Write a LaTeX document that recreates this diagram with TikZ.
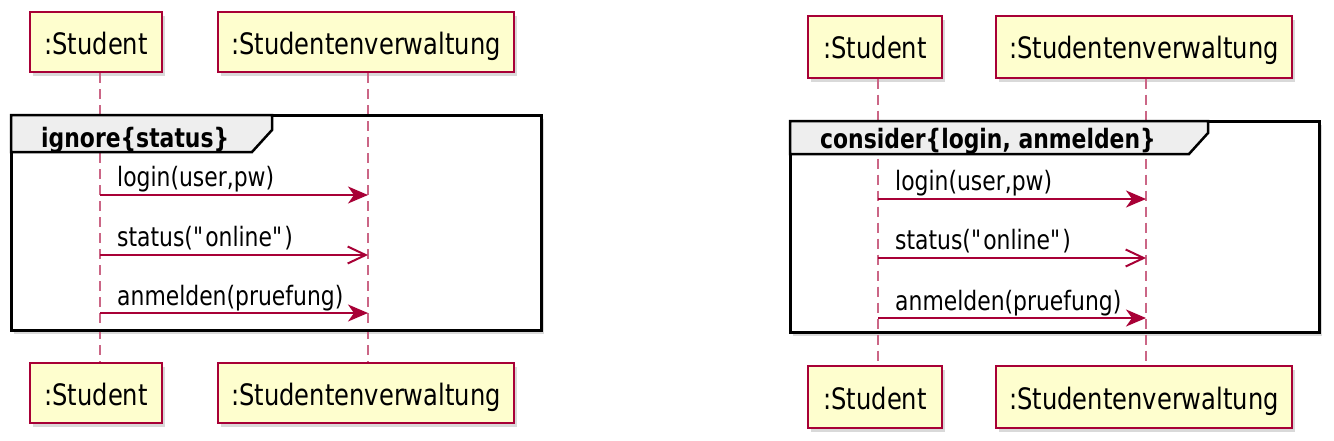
\documentclass[tikz,border=0pt]{standalone}
\usepackage{fontspec}
\setmainfont{DejaVu Sans}[FakeStretch=0.82]
\usetikzlibrary{arrows.meta,shadows}
\definecolor{pcrim}{HTML}{A80036}
\definecolor{pfill}{HTML}{FEFECE}
\definecolor{tabgrey}{HTML}{EEEEEE}
\begin{document}
\begin{tikzpicture}[x=1pt,y=-1pt,
  pbox/.style={draw=pcrim, line width=2pt, fill=pfill, inner sep=0pt,
    minimum height=60pt, text height=24pt, text depth=0pt,
    font=\fontsize{29.5}{34}\selectfont,
    drop shadow={shadow xshift=3pt,shadow yshift=-4pt,opacity=0.3}},
  lifeline/.style={draw=pcrim!60, line width=2pt, dash pattern=on 10pt off 6pt},
  framebox/.style={draw=black, line width=3pt},
  framefill/.style={fill=white, drop shadow={shadow xshift=3pt,shadow yshift=-4pt,opacity=0.3}},
  tabbox/.style={draw=black, line width=2.5pt, fill=tabgrey, line join=miter},
  tablabel/.style={anchor=base west, inner sep=0pt, font=\fontsize{26.7}{30}\selectfont\bfseries},
  msglabel/.style={anchor=base west, inner sep=0pt, font=\fontsize{26.7}{30}\selectfont},
  syncmsg/.style={draw=pcrim, line width=2pt, -{Stealth[length=20pt,width=17pt,inset=6pt]}},
  asyncmsg/.style={draw=pcrim, line width=2pt, -{Straight Barb[length=18pt,width=17pt]}}
]
\useasboundingbox (0,0) rectangle (1334,440);

% ---------- frame backgrounds ----------
\path[framefill] (11,115) rectangle (541,330);
\path[framefill] (790,121) rectangle (1319,332);

% ---------- left diagram participants ----------
\node[pbox, minimum width=132pt] (s1t) at (96,42) {:Student};
\node[pbox, minimum width=296pt] (v1t) at (366,42) {:Studentenverwaltung};
\node[pbox, minimum width=132pt] (s1b) at (96,393) {:Student};
\node[pbox, minimum width=296pt] (v1b) at (366,393) {:Studentenverwaltung};

% ---------- right diagram participants ----------
\node[pbox, minimum width=134pt, minimum height=62pt] (s2t) at (875,46.5) {:Student};
\node[pbox, minimum width=296pt, minimum height=62pt] (v2t) at (1144,46.5) {:Studentenverwaltung};
\node[pbox, minimum width=134pt, minimum height=62pt] (s2b) at (875,397) {:Student};
\node[pbox, minimum width=296pt, minimum height=62pt] (v2b) at (1144,397) {:Studentenverwaltung};

% ---------- lifelines ----------
\draw[lifeline] ([xshift=4pt]s1t.south) -- ([xshift=4pt]s1b.north);
\draw[lifeline] ([xshift=2pt]v1t.south) -- ([xshift=2pt]v1b.north);
\draw[lifeline] ([xshift=3pt]s2t.south) -- ([xshift=3pt]s2b.north);
\draw[lifeline] ([xshift=2pt]v2t.south) -- ([xshift=2pt]v2b.north);

% ---------- frames ----------
\draw[framebox] (11,115) rectangle (541,330);
\draw[tabbox] (11,115) -- (272,115) -- (272,130) -- (252,152) -- (11,152) -- cycle;
\node[tablabel] (t1) at (41,147) {ignore\{status\}};

\draw[framebox] (790,121) rectangle (1319,332);
\draw[tabbox] (790,121) -- (1208,121) -- (1208,133) -- (1189,154) -- (790,154) -- cycle;
\node[tablabel] (t2) at (820,148) {consider\{login, anmelden\}};

% ---------- left messages ----------
\coordinate (l1a) at (100,195); \coordinate (l1b) at (368,195);
\coordinate (l2a) at (100,255); \coordinate (l2b) at (368,255);
\coordinate (l3a) at (100,313); \coordinate (l3b) at (368,313);
\draw[syncmsg] (l1a) -- (l1b);
\draw[asyncmsg] (l2a) -- (l2b);
\draw[syncmsg] (l3a) -- (l3b);
\node[msglabel] (lm1) at (117,186) {login(user,pw)};
\node[msglabel] (lm2) at (117,246) {status(\textquotedbl online\textquotedbl)};
\node[msglabel] (lm3) at (117,305) {anmelden(pruefung)};

% ---------- right messages ----------
\coordinate (r1a) at (878,199); \coordinate (r1b) at (1146,199);
\coordinate (r2a) at (878,258); \coordinate (r2b) at (1146,258);
\coordinate (r3a) at (878,318); \coordinate (r3b) at (1146,318);
\draw[syncmsg] (r1a) -- (r1b);
\draw[asyncmsg] (r2a) -- (r2b);
\draw[syncmsg] (r3a) -- (r3b);
\node[msglabel] (rm1) at (895,190) {login(user,pw)};
\node[msglabel] (rm2) at (895,249) {status(\textquotedbl online\textquotedbl)};
\node[msglabel] (rm3) at (895,310) {anmelden(pruefung)};
\end{tikzpicture}
\end{document}
